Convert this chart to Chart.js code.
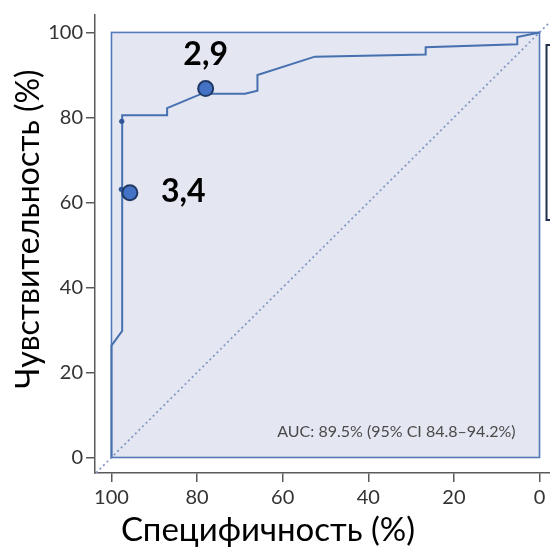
<!DOCTYPE html>
<html>
<head>
<meta charset="utf-8">
<script src="https://cdn.jsdelivr.net/npm/chart.js@4.4.1/dist/chart.umd.min.js"></script>
<style>
  html, body { margin: 0; padding: 0; background: #ffffff; overflow: hidden; }
  canvas { display: block; }
</style>
</head>
<body>
<canvas id="roc" width="550" height="552"></canvas>
<script>
// ROC curve: specificity (%) on a reversed x axis, sensitivity (%) on y
const specificity = [100, 100, 97.5, 97.5, 87.0, 87.0, 78.9, 68.8, 65.9, 65.9, 52.5, 26.6, 26.6, 5.2, 5.2, 0];
const sensitivity = [0, 26.3, 29.8, 80.5, 80.5, 82.2, 85.6, 85.6, 86.3, 90.0, 94.3, 94.8, 96.5, 97.2, 98.9, 100];

// highlighted cut-off points and their threshold labels
const cutoffLabels = ['2,9', '3,4'];
const cutoffSpec = [78.0, 95.7];
const cutoffSens = [86.8, 62.3];

// small markers on the curve
const minorSpec = [97.6, 97.7];
const minorSens = [79.1, 63.1];

// chance (no-discrimination) line
const chanceSpec = [103.6, -2.5];
const chanceSens = [-3.6, 102.5];

const tickValues = [0, 20, 40, 60, 80, 100];
const xTitle = 'Специфичность (%)';
const yTitle = 'Чувствительность (%)';
const aucText = 'AUC: 89.5% (95% CI 84.8–94.2%)';

const FONT = 'Lato, "Open Sans", "Noto Sans", sans-serif';
const AXIS_COLOR = '#5a5a5a';
const LINE_BLUE = '#4670b0';

const pts = (xs, ys) => xs.map((x, i) => ({ x: x, y: ys[i] }));

// shaded frame covering the 0–100 data square
const framePlugin = {
  id: 'frame',
  beforeDatasetsDraw(chart) {
    const { ctx, scales: { x, y } } = chart;
    const l = x.getPixelForValue(100), r = x.getPixelForValue(0);
    const t = y.getPixelForValue(100), b = y.getPixelForValue(0);
    ctx.save();
    ctx.fillStyle = '#e4e7f1';
    ctx.fillRect(l, t, r - l, b - t);
    ctx.strokeStyle = '#5479b8';
    ctx.lineWidth = 1.6;
    ctx.strokeRect(l, t, r - l, b - t);
    ctx.restore();
  }
};

// threshold labels, AUC note, axis titles and the partly visible side panel
const textPlugin = {
  id: 'texts',
  afterDraw(chart) {
    const { ctx, scales: { x, y } } = chart;
    ctx.save();
    ctx.fillStyle = '#000000';
    ctx.font = 'bold 32px ' + FONT;
    ctx.textBaseline = 'middle';
    // "2,9" centred above its marker
    ctx.textAlign = 'center';
    ctx.fillText(cutoffLabels[0], x.getPixelForValue(cutoffSpec[0]), y.getPixelForValue(cutoffSens[0]) - 34);
    // "3,4" to the right of its marker
    ctx.textAlign = 'left';
    ctx.fillText(cutoffLabels[1], x.getPixelForValue(cutoffSpec[1]) + 31, y.getPixelForValue(cutoffSens[1]) - 1);

    ctx.font = '16px ' + FONT;
    ctx.fillStyle = '#4a4a4a';
    ctx.textAlign = 'right';
    ctx.fillText(aucText, x.getPixelForValue(5.6), y.getPixelForValue(6.0));

    // axis titles
    ctx.fillStyle = '#000000';
    ctx.textAlign = 'center';
    ctx.textBaseline = 'alphabetic';
    ctx.font = '33px ' + FONT;
    ctx.fillText(xTitle, 268, 541);
    ctx.font = '32px ' + FONT;
    ctx.translate(39, 229);
    ctx.rotate(-Math.PI / 2);
    ctx.fillText(yTitle, 0, 0);
    ctx.restore();

    // edge of the neighbouring panel
    ctx.save();
    ctx.strokeStyle = '#1f2f4d';
    ctx.lineWidth = 2;
    ctx.strokeRect(x.getPixelForValue(0) + 7, 45, 20, 175);
    ctx.restore();
  }
};

const axisBase = {
  type: 'linear',
  afterBuildTicks(scale) { scale.ticks = tickValues.map(v => ({ value: v })); },
  grid: { drawOnChartArea: false, drawTicks: true, tickLength: 9, color: AXIS_COLOR, lineWidth: 1.5 },
  border: { display: true, color: AXIS_COLOR, width: 1.5 },
  title: { display: false }
};

new Chart(document.getElementById('roc'), {
  type: 'scatter',
  data: {
    datasets: [
      {
        data: pts(chanceSpec, chanceSens),
        showLine: true,
        borderColor: '#8599c4',
        borderWidth: 1.8,
        borderDash: [2, 3],
        pointRadius: 0,
        order: 4
      },
      {
        data: pts(specificity, sensitivity),
        showLine: true,
        borderColor: LINE_BLUE,
        borderWidth: 2,
        pointRadius: 0,
        tension: 0,
        order: 3
      },
      {
        data: pts(minorSpec, minorSens),
        pointRadius: 2.6,
        pointBackgroundColor: '#2f5597',
        pointBorderWidth: 0,
        order: 2
      },
      {
        data: pts(cutoffSpec, cutoffSens),
        pointRadius: 7.5,
        pointBackgroundColor: '#4472c4',
        pointBorderColor: '#1f3864',
        pointBorderWidth: 2,
        order: 1
      }
    ]
  },
  options: {
    responsive: false,
    animation: false,
    devicePixelRatio: 1,
    layout: { autoPadding: false, padding: { top: 12, right: 0, bottom: 0, left: 0 } },
    plugins: { legend: { display: false }, tooltip: { enabled: false } },
    scales: {
      x: Object.assign({}, axisBase, {
        reverse: true,
        min: -2.45,
        max: 103.85,
        afterFit(scale) { scale.height = 79; },
        ticks: { autoSkip: false, padding: 4, color: '#333333', font: { family: FONT, size: 20 } }
      }),
      y: Object.assign({}, axisBase, {
        min: -3.65,
        max: 104.1,
        afterFit(scale) { scale.width = 95; },
        ticks: { autoSkip: false, padding: 3, color: '#333333', font: { family: FONT, size: 20 } }
      })
    }
  },
  plugins: [framePlugin, textPlugin]
});
</script>
</body>
</html>
